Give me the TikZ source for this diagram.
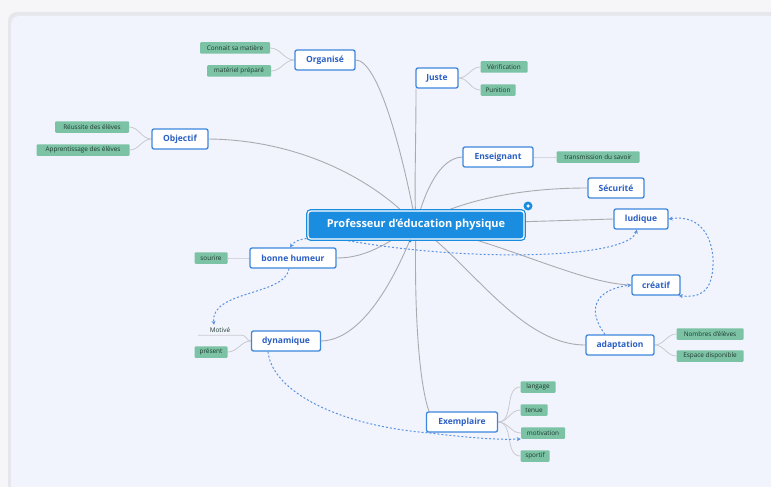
\documentclass[tikz,border=0pt]{standalone}
\usepackage{fontspec}
\setmainfont{Open Sans}
\usetikzlibrary{arrows.meta}
\definecolor{outerbg}{HTML}{F6F6F9}
\definecolor{panelbg}{HTML}{F1F4FD}
\definecolor{shadowc}{HTML}{E6E7EC}
\definecolor{topicblue}{HTML}{3D86DD}
\definecolor{topictext}{HTML}{2A5FC4}
\definecolor{leafgreen}{HTML}{7CC2A5}
\definecolor{leaftext}{HTML}{1F3A30}
\definecolor{cblue}{HTML}{1A8DE0}
\definecolor{branchc}{HTML}{ABABAF}
\definecolor{childc}{HTML}{CACACE}
\definecolor{relblue}{HTML}{5A93E0}
\pgfdeclarelayer{bottom}
\pgfdeclarelayer{lines}
\pgfsetlayers{bottom,lines,main}
\tikzset{
  topic/.style={draw=topicblue, line width=1.3pt, fill=white, rounded corners=2pt,
    font=\bfseries\fontsize{8.5}{9}\selectfont, text=topictext, minimum height=20, inner sep=0pt},
  leaf/.style={fill=leafgreen, rounded corners=1pt, font=\fontsize{6.4}{7}\selectfont,
    text=leaftext, minimum height=11.5, inner sep=0pt},
  plaintopic/.style={font=\fontsize{6.4}{7}\selectfont, text=leaftext, minimum height=10, inner sep=0pt},
  central/.style={fill=cblue, draw=cblue, double=white, double distance=1.3pt, line width=1.3pt,
    rounded corners=3pt, font=\bfseries\fontsize{11}{12}\selectfont, text=white,
    minimum width=216, minimum height=28, inner sep=0pt},
  branch/.style={draw=branchc, line width=0.9pt},
  childline/.style={draw=childc, line width=0.8pt},
  rel/.style={draw=relblue, line width=1pt, dash pattern=on 2pt off 2pt},
  relarrow/.style={-{Stealth[length=4pt,width=4pt]}},
  relboth/.style={{Stealth[length=4pt,width=4pt]}-{Stealth[length=4pt,width=4pt]}},
}
\begin{document}
\begin{tikzpicture}[x=1pt,y=-1pt]
\useasboundingbox (0,0) rectangle (771,487);
\begin{pgfonlayer}{bottom}
  \fill[outerbg] (0,0) rectangle (771,487);
  \fill[shadowc, rounded corners=9pt] (8,12) rectangle (790,500);
  \fill[panelbg, rounded corners=8pt] (11,16) rectangle (790,500);
\end{pgfonlayer}

% central
\node[central] (c) at (416,225) {Professeur d’éducation physique};
\node[circle, fill=cblue, minimum size=9, inner sep=0pt] (plus) at (528,206) {};
\node[circle, fill=white, minimum size=3.5, inner sep=0pt] (plusin) at (plus) {};
\node[circle, fill=cblue, minimum size=3, inner sep=0pt] (sel) at (410,241) {};

% topics
\node[topic, minimum width=60] (org) at (325,60) {Organisé};
\node[topic, minimum width=56] (obj) at (180,139) {Objectif};
\node[topic, minimum width=42] (jus) at (437,78) {Juste};
\node[topic, minimum width=70] (ens) at (498,157) {Enseignant};
\node[topic, minimum width=56] (sec) at (616,188) {Sécurité};
\node[topic, minimum width=54] (lud) at (641,219) {ludique};
\node[topic, minimum width=48] (cre) at (656,285) {créatif};
\node[topic, minimum width=68] (ada) at (620,345) {adaptation};
\node[topic, minimum width=71] (exe) at (462,422) {Exemplaire};
\node[topic, minimum width=86] (bon) at (293,258) {bonne humeur};
\node[topic, minimum width=69] (dyn) at (286,341) {dynamique};

% leaves
\node[leaf, minimum width=70] (l1) at (235,48) {Connait sa matière};
\node[leaf, minimum width=64] (l2) at (239,71) {matériel préparé};
\node[leaf, minimum width=74] (l3) at (92,127) {Réussite des élèves};
\node[leaf, minimum width=93] (l4) at (83,150) {Apprentissage des élèves};
\node[leaf, minimum width=47] (l5) at (504,67) {Vérification};
\node[leaf, minimum width=35] (l6) at (498,90) {Punition};
\node[leaf, minimum width=83] (l7) at (598,157) {transmission du savoir};
\node[leaf, minimum width=67] (l8) at (710,334) {Nombres d'élèves};
\node[leaf, minimum width=67] (l9) at (710,356) {Espace disponible};
\node[leaf, minimum width=35] (l10) at (538,387) {langage};
\node[leaf, minimum width=27] (l11) at (534,410) {tenue};
\node[leaf, minimum width=44] (l12) at (543,433) {motivation};
\node[leaf, minimum width=29] (l13) at (535,456) {sportif};
\node[leaf, minimum width=33] (l14) at (211,258) {sourire};
\node[plaintopic, minimum width=44] (mot) at (220,330) {Motivé};
\node[leaf, minimum width=33] (l15) at (211,352) {présent};

\begin{pgfonlayer}{lines}
  % main branches
  \draw[branch] (org.east) .. controls (378,60) and (402,150) .. (c.center);
  \draw[branch] (obj.east) .. controls (300,140) and (375,180) .. (c.center);
  \draw[branch] ([xshift=-21pt]jus.south) .. controls (416,150) and (414,190) .. (c.center);
  \draw[branch] (ens.west) .. controls (440,158) and (425,190) .. (c.center);
  \draw[branch] (sec.west) .. controls (520,188) and (460,200) .. (c.center);
  \draw[branch] (c.center) -- (lud.west);
  \draw[branch] (c.center) .. controls (500,240) and (580,284) .. (cre.west);
  \draw[branch] (c.center) .. controls (470,262) and (520,345) .. (ada.west);
  \draw[branch] (c.center) .. controls (414,300) and (418,380) .. ([xshift=-33pt]exe.north);
  \draw[branch] (bon.east) .. controls (365,258) and (385,245) .. (c.center);
  \draw[branch] (dyn.east) .. controls (362,340) and (395,280) .. (c.center);
  % child lines
  \draw[childline] (org.west) to[out=180,in=0] (l1.east);
  \draw[childline] (org.west) to[out=180,in=0] (l2.east);
  \draw[childline] (obj.west) to[out=180,in=0] (l3.east);
  \draw[childline] (obj.west) to[out=180,in=0] (l4.east);
  \draw[childline] (jus.east) to[out=0,in=180] (l5.west);
  \draw[childline] (jus.east) to[out=0,in=180] (l6.west);
  \draw[childline] (ens.east) to[out=0,in=180] (l7.west);
  \draw[childline] (ada.east) to[out=0,in=180] (l8.west);
  \draw[childline] (ada.east) to[out=0,in=180] (l9.west);
  \draw[childline] (exe.east) to[out=0,in=180] (l10.west);
  \draw[childline] (exe.east) to[out=0,in=180] (l11.west);
  \draw[childline] (exe.east) to[out=0,in=180] (l12.west);
  \draw[childline] (exe.east) to[out=0,in=180] (l13.west);
  \draw[childline] (bon.west) to[out=180,in=0] (l14.east);
  \draw[childline] (mot.south west) -- (mot.south east) to[out=0,in=180] (dyn.west);
  \draw[childline] (dyn.west) to[out=180,in=0] (l15.east);
  % relationships
  \draw[rel, relboth] ([xshift=-4pt]lud.south) .. controls (628,258) and (480,262) .. (362,243)
      .. controls (320,236) and (298,236) .. ([xshift=-3pt]bon.north);
  \draw[rel, relarrow] ([xshift=-4pt]bon.south) .. controls (285,296) and (210,290) .. ([xshift=-6pt]mot.north);
  \draw[rel, relboth] (lud.east) .. controls (702,214) and (714,240) .. (713,265)
      .. controls (712,292) and (700,298) .. ([xshift=-2pt]cre.south east);
  \draw[rel, relarrow] ([xshift=-15pt]ada.north) .. controls (588,312) and (592,290) .. (cre.west);
  \draw[rel, relarrow] ([xshift=-18pt]dyn.south) .. controls (272,392) and (340,426) .. (430,433)
      .. controls (470,438) and (500,440) .. (l12.south west);
\end{pgfonlayer}
\end{tikzpicture}
\end{document}
